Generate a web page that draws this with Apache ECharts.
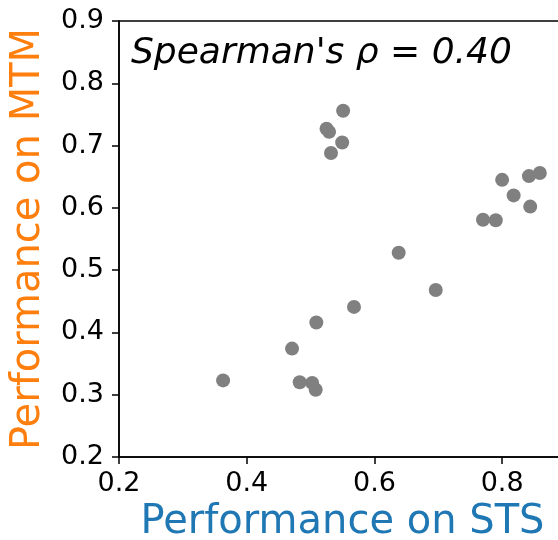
<!DOCTYPE html>
<html>
<head>
<meta charset="utf-8">
<script src="https://cdn.jsdelivr.net/npm/echarts@6/dist/echarts.min.js"></script>
<style>
  html, body { margin: 0; padding: 0; background: #fff; }
  #main { width: 558px; height: 540px; }
</style>
</head>
<body>
<div id="main"></div>
<script>
// performance of each model on STS (x) and MTM (y)
const stsScores = [0.551, 0.525, 0.529, 0.5495, 0.532, 0.800, 0.842, 0.859, 0.818, 0.844, 0.770,
  0.790, 0.638, 0.696, 0.568, 0.509, 0.471, 0.363, 0.483, 0.5025, 0.508];
const mtmScores = [0.756, 0.727, 0.722, 0.705, 0.688, 0.645, 0.651, 0.656, 0.620, 0.602, 0.581,
  0.580, 0.528, 0.468, 0.441, 0.416, 0.374, 0.323, 0.320, 0.319, 0.308];
const xTicks = [0.2, 0.4, 0.6, 0.8];
const yTicks = [0.2, 0.3, 0.4, 0.5, 0.6, 0.7, 0.8, 0.9];
const corrLabel = "Spearman's ρ = 0.40";

const font = 'DejaVu Sans';
const points = stsScores.map((x, i) => [x, mtmScores[i]]);

const chart = echarts.init(document.getElementById('main'), null, { renderer: 'canvas' });

const option = {
  animation: false,
  backgroundColor: '#fff',
  title: {
    text: corrLabel,
    left: 131,
    top: 36,
    padding: 0,
    textStyle: {
      fontFamily: font,
      fontStyle: 'italic',
      fontWeight: 'normal',
      fontSize: 36,
      color: '#000'
    }
  },
  grid: {
    left: 119,
    top: 21,
    width: 447,
    height: 436,
    containLabel: false,
    outerBoundsMode: 'none',
    show: true,
    borderColor: '#000',
    borderWidth: 1.5
  },
  xAxis: {
    type: 'value',
    min: xTicks[0],
    max: 0.9,
    interval: 0.2,
    name: 'Performance on STS',
    nameLocation: 'middle',
    nameGap: 46,
    nameTextStyle: { fontFamily: font, fontSize: 40, color: '#1f77b4' },
    axisLine: { lineStyle: { color: '#000', width: 1.5 } },
    axisTick: { length: 7, lineStyle: { color: '#000', width: 1.5 } },
    axisLabel: {
      fontFamily: font, fontSize: 27, color: '#000', margin: 13,
      showMaxLabel: false,
      formatter: v => xTicks.some(t => Math.abs(t - v) < 1e-9) ? v.toFixed(1) : ''
    },
    splitLine: { show: false }
  },
  yAxis: {
    type: 'value',
    min: yTicks[0],
    max: yTicks[yTicks.length - 1],
    interval: 0.1,
    name: 'Performance on MTM',
    nameLocation: 'middle',
    nameGap: 70,
    nameTextStyle: { fontFamily: font, fontSize: 40, color: '#ff7f0e' },
    axisLine: { lineStyle: { color: '#000', width: 1.5 } },
    axisTick: { length: 7, lineStyle: { color: '#000', width: 1.5 } },
    axisLabel: {
      fontFamily: font, fontSize: 27, color: '#000', margin: 15,
      formatter: v => v.toFixed(1)
    },
    splitLine: { show: false }
  },
  series: [
    {
      type: 'scatter',
      data: points,
      symbolSize: 14,
      itemStyle: { color: '#808080', opacity: 1 }
    }
  ]
};

chart.setOption(option);
</script>
</body>
</html>
